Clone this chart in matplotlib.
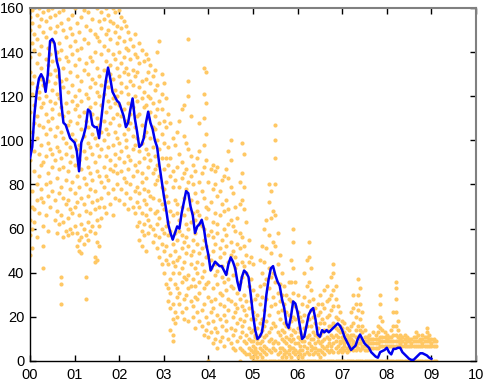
import numpy as np
import matplotlib
matplotlib.use("Agg")
import matplotlib.pyplot as plt

plt.rcParams['font.family'] = ['Liberation Sans', 'DejaVu Sans']

# ---- smoothed line (years since 2000, value) ----
line_t = [0.00, 0.05, 0.10, 0.15, 0.20, 0.25, 0.30, 0.35, 0.40, 0.45,
          0.50, 0.55, 0.60, 0.65, 0.70, 0.75, 0.80, 0.85, 0.90, 0.95,
          1.00, 1.05, 1.10, 1.15, 1.20, 1.25, 1.30, 1.35, 1.40, 1.45,
          1.50, 1.55, 1.60, 1.65, 1.70, 1.75, 1.80, 1.85, 1.90, 1.95,
          2.00, 2.05, 2.10, 2.15, 2.20, 2.25, 2.30, 2.35, 2.40, 2.45,
          2.50, 2.55, 2.60, 2.65, 2.70, 2.75, 2.80, 2.85, 2.90, 2.95,
          3.00, 3.05, 3.10, 3.15, 3.20, 3.25, 3.30, 3.35, 3.40, 3.45,
          3.50, 3.55, 3.60, 3.65, 3.70, 3.75, 3.80, 3.85, 3.90, 3.95,
          4.00, 4.05, 4.10, 4.15, 4.20, 4.25, 4.30, 4.35, 4.40, 4.45,
          4.50, 4.55, 4.60, 4.65, 4.70, 4.75, 4.80, 4.85, 4.90, 4.95,
          5.00, 5.05, 5.10, 5.15, 5.20, 5.25, 5.30, 5.35, 5.40, 5.45,
          5.50, 5.55, 5.60, 5.65, 5.70, 5.75, 5.80, 5.85, 5.90, 5.95,
          6.00, 6.05, 6.10, 6.15, 6.20, 6.25, 6.30, 6.35, 6.40, 6.45,
          6.50, 6.55, 6.60, 6.65, 6.70, 6.75, 6.80, 6.85, 6.90, 6.95,
          7.00, 7.05, 7.10, 7.15, 7.20, 7.25, 7.30, 7.35, 7.40, 7.45,
          7.50, 7.55, 7.60, 7.65, 7.70, 7.75, 7.80, 7.85, 7.90, 7.95,
          8.00, 8.05, 8.10, 8.15, 8.20, 8.25, 8.30, 8.35, 8.40, 8.45,
          8.50, 8.55, 8.60, 8.65, 8.70, 8.75, 8.80, 8.85, 8.90, 8.95,
          9.00]
line_v = [92, 97, 112, 122, 128, 130, 128, 122, 130, 145,
          146, 144, 136, 132, 117, 108, 107, 104, 101, 100,
          99, 95, 86, 99, 102, 106, 114, 113, 107, 106,
          106, 101, 110, 119, 127, 133, 128, 122, 120, 118,
          117, 114, 111, 106, 108, 114, 119, 110, 104, 97,
          98, 101, 108, 113, 108, 105, 100, 97, 89, 82,
          75, 69, 62, 58, 55, 58, 61, 60, 67, 72,
          77, 76, 70, 66, 58, 61, 62, 64, 60, 53,
          48, 41, 43, 45, 44, 43, 43, 41, 39, 44,
          47, 45, 42, 36, 32, 38, 41, 40, 38, 30,
          21, 14, 10, 11, 13, 20, 30, 37, 42, 43,
          39, 36, 34, 28, 24, 17, 15, 20, 27, 26,
          22, 16, 10, 11, 16, 21, 23, 24, 19, 12,
          11, 14, 13, 14, 13, 14, 15, 16, 17, 16,
          14, 11, 9, 7, 5, 6, 7, 10, 12, 10,
          8, 7, 6, 4, 3, 2, 1.5, 4, 4.5, 5,
          6, 4, 3, 5.5, 5.5, 6, 6, 4, 3, 2,
          1, 0.5, 0.5, 1.5, 2.5, 3.5, 3.5, 3, 2.5, 1.5,
          1]

# ---- individual observations: one column of values per date ----
obs_t = [0.00, 0.05, 0.10, 0.15, 0.20, 0.25, 0.30, 0.35, 0.40, 0.45,
         0.50, 0.55, 0.60, 0.65, 0.70, 0.75, 0.80, 0.85, 0.90, 0.95,
         1.00, 1.05, 1.10, 1.15, 1.20, 1.25, 1.30, 1.35, 1.40, 1.45,
         1.50, 1.55, 1.60, 1.65, 1.70, 1.75, 1.80, 1.85, 1.90, 1.95,
         2.00, 2.05, 2.10, 2.15, 2.20, 2.25, 2.30, 2.35, 2.40, 2.45,
         2.50, 2.55, 2.60, 2.65, 2.70, 2.75, 2.80, 2.85, 2.90, 2.95,
         3.00, 3.05, 3.10, 3.15, 3.20, 3.25, 3.30, 3.35, 3.40, 3.45,
         3.50, 3.55, 3.60, 3.65, 3.70, 3.75, 3.80, 3.85, 3.90, 3.95,
         4.00, 4.05, 4.10, 4.15, 4.20, 4.25, 4.30, 4.35, 4.40, 4.45,
         4.50, 4.55, 4.60, 4.65, 4.70, 4.75, 4.80, 4.85, 4.90, 4.95,
         5.00, 5.05, 5.10, 5.15, 5.20, 5.25, 5.30, 5.35, 5.40, 5.45,
         5.50, 5.55, 5.60, 5.65, 5.70, 5.75, 5.80, 5.85, 5.90, 5.95,
         6.00, 6.05, 6.10, 6.15, 6.20, 6.25, 6.30, 6.35, 6.40, 6.45,
         6.50, 6.55, 6.60, 6.65, 6.70, 6.75, 6.80, 6.85, 6.90, 6.95,
         7.00, 7.05, 7.10, 7.15, 7.20, 7.25, 7.30, 7.35, 7.40, 7.45,
         7.50, 7.55, 7.60, 7.65, 7.70, 7.75, 7.80, 7.85, 7.90, 7.95,
         8.00, 8.05, 8.10, 8.15, 8.20, 8.25, 8.30, 8.35, 8.40, 8.45,
         8.50, 8.55, 8.60, 8.65, 8.70, 8.75, 8.80, 8.85, 8.90, 8.95,
         9.00, 9.05, 9.10]
obs_v = [
    [48, 57, 64, 91, 99, 113, 131, 138, 150, 156],
    [51, 60, 70, 77, 104, 121, 126, 144, 153, 159],
    [63, 69, 86, 95, 108, 116, 129, 141, 148],
    [56, 73, 80, 101, 111, 124, 135, 146, 157],
    [67, 84, 94, 107, 119, 122, 139, 152, 160],
    [74, 78, 89, 98, 115, 128, 133, 143, 155],
    [42, 52, 61, 72, 90, 106, 117, 125, 149, 158],
    [66, 80, 93, 103, 112, 120, 137, 147, 154],
    [59, 75, 85, 99, 109, 127, 134, 142, 159],
    [70, 81, 96, 105, 118, 130, 139, 151, 156],
    [77, 88, 94, 110, 114, 123, 136, 145, 160],
    [64, 73, 91, 102, 117, 126, 132, 149, 157],
    [58, 68, 83, 97, 106, 121, 129, 140, 152],
    [62, 76, 87, 95, 112, 119, 137, 144, 158],
    [26, 35, 38, 66, 79, 92, 104, 115, 127, 141, 153],
    [56, 63, 74, 88, 101, 111, 124, 133, 150, 159],
    [59, 71, 82, 94, 99, 117, 128, 138, 147],
    [57, 65, 73, 86, 107, 113, 122, 136, 155],
    [60, 69, 78, 90, 97, 109, 131, 143, 151],
    [58, 67, 81, 93, 103, 118, 125, 139, 148, 157],
    [61, 70, 76, 89, 100, 114, 120, 134, 145, 160],
    [52, 58, 72, 84, 96, 108, 116, 129, 141, 153],
    [50, 55, 66, 79, 91, 98, 111, 123, 137, 149],
    [49, 56, 62, 74, 87, 105, 118, 127, 142, 156],
    [53, 60, 71, 83, 95, 102, 113, 132, 146, 159],
    [28, 38, 57, 68, 80, 92, 109, 121, 135, 152],
    [55, 63, 75, 88, 99, 106, 119, 130, 144, 158],
    [59, 67, 78, 85, 97, 115, 124, 138, 150],
    [61, 72, 82, 94, 103, 112, 128, 136, 155],
    [45, 47, 58, 69, 77, 90, 101, 117, 126, 140, 148],
    [46, 54, 64, 73, 86, 98, 110, 122, 133, 147, 160],
    [52, 61, 70, 84, 93, 107, 120, 129, 145, 154],
    [65, 74, 81, 96, 104, 116, 125, 139, 151, 158],
    [70, 79, 88, 100, 109, 121, 132, 143, 155],
    [67, 84, 93, 105, 113, 127, 136, 148, 160],
    [76, 82, 97, 103, 118, 124, 141, 150, 157],
    [71, 87, 91, 108, 115, 130, 134, 146, 154],
    [66, 78, 86, 98, 110, 119, 128, 139, 153, 160],
    [74, 89, 94, 104, 117, 123, 137, 149, 158],
    [80, 85, 101, 112, 120, 133, 144, 152],
    [73, 92, 99, 107, 116, 129, 140, 147, 159],
    [78, 86, 95, 111, 122, 126, 135, 151, 156],
    [71, 83, 90, 103, 114, 131, 138, 145, 154],
    [76, 81, 97, 100, 109, 124, 133, 142, 152],
    [69, 87, 93, 105, 117, 121, 130, 141, 149],
    [74, 80, 91, 108, 112, 127, 137, 146],
    [70, 84, 96, 102, 115, 125, 132, 143],
    [67, 77, 89, 98, 106, 120, 129, 139, 148],
    [61, 72, 79, 86, 101, 111, 118, 131, 138],
    [55, 63, 70, 76, 90, 95, 112, 124, 135, 144],
    [52, 59, 67, 81, 85, 99, 107, 119, 127, 141],
    [57, 62, 73, 78, 92, 102, 115, 122, 136],
    [50, 66, 71, 83, 96, 104, 116, 128, 139],
    [58, 64, 77, 88, 94, 110, 120, 131, 137],
    [61, 69, 75, 91, 101, 113, 119, 126, 134],
    [54, 60, 74, 85, 97, 106, 117, 129],
    [57, 67, 80, 87, 93, 105, 111, 123, 132],
    [51, 62, 68, 82, 89, 100, 114, 125, 140],
    [47, 56, 65, 73, 84, 96, 108, 118, 145],
    [44, 53, 60, 71, 79, 92, 103, 114, 121, 130],
    [40, 50, 58, 69, 78, 87, 99, 109, 126],
    [35, 46, 52, 61, 75, 81, 92, 106, 119],
    [27, 33, 44, 57, 63, 72, 89, 97, 112],
    [14, 24, 31, 37, 48, 59, 68, 84, 92, 108],
    [9, 12, 19, 26, 40, 45, 53, 66, 79, 86, 101],
    [17, 22, 35, 43, 50, 58, 73, 82, 98],
    [20, 29, 33, 46, 55, 67, 71, 88, 104],
    [26, 31, 40, 47, 59, 64, 79, 94, 109],
    [22, 36, 42, 51, 57, 70, 83, 90, 114],
    [19, 28, 38, 45, 54, 66, 74, 85, 102, 116],
    [24, 30, 37, 49, 56, 62, 78, 87, 99],
    [18, 33, 39, 52, 60, 69, 81, 96, 120, 127, 146],
    [27, 34, 44, 48, 63, 73, 84, 93, 111],
    [20, 25, 37, 50, 55, 67, 80, 89],
    [15, 29, 34, 42, 58, 64, 76, 86],
    [22, 28, 40, 45, 53, 68, 72, 92],
    [18, 31, 36, 49, 62, 66, 81, 95, 108],
    [16, 23, 38, 44, 51, 61, 77, 85],
    [12, 26, 33, 41, 55, 60, 74, 88, 98, 110, 121, 133],
    [14, 20, 35, 47, 52, 65, 70, 91, 103, 117, 131],
    [0, 11, 17, 29, 36, 48, 57, 69, 81],
    [13, 22, 27, 42, 46, 59, 72, 87],
    [8, 18, 24, 33, 50, 56, 63, 78, 89],
    [10, 15, 28, 39, 44, 53, 67, 80, 86],
    [6, 13, 21, 35, 41, 58, 62, 75, 88],
    [9, 19, 26, 31, 47, 51, 66, 77],
    [11, 16, 30, 38, 43, 55, 71, 82],
    [7, 21, 25, 36, 49, 60, 68, 84],
    [14, 18, 32, 40, 52, 57, 73, 87],
    [10, 23, 28, 37, 45, 62, 69, 83, 95],
    [8, 15, 27, 34, 48, 54, 64, 79, 91, 100],
    [6, 12, 20, 33, 39, 50, 61, 76],
    [5, 14, 22, 26, 42, 47, 59, 70],
    [9, 17, 24, 31, 44, 53, 65],
    [0, 6, 11, 19, 28, 36, 51, 58, 71, 81],
    [5, 13, 16, 25, 38, 45, 56, 73, 85, 99],
    [4, 9, 18, 23, 30, 43, 52, 69, 79, 94],
    [3, 8, 12, 21, 27, 40, 48, 63],
    [3, 6, 10, 15, 24, 34, 45, 55],
    [2, 5, 9, 13, 19, 27, 37, 47],
    [0, 2, 4, 7, 9, 14, 22, 32, 44],
    [0, 3, 5, 6, 11, 12, 19, 28],
    [0, 2, 4, 8, 10, 15, 21, 30],
    [0, 3, 6, 8, 12, 17, 26, 34, 46],
    [0, 2, 5, 9, 14, 19, 29, 40, 52],
    [0, 4, 7, 11, 16, 23, 35, 45, 60],
    [0, 3, 6, 12, 18, 28, 37, 51, 64],
    [0, 5, 9, 13, 21, 33, 42, 57, 72, 80],
    [0, 4, 10, 15, 25, 38, 49, 65, 77],
    [0, 6, 8, 17, 29, 40, 54, 68],
    [0, 5, 9, 16, 26, 36, 52, 66, 80, 92, 100, 107],
    [0, 3, 8, 13, 22, 31, 44, 58],
    [0, 4, 6, 12, 19, 27, 35, 48],
    [0, 2, 6, 10, 14, 23, 30, 40],
    [0, 3, 5, 9, 13, 17, 26, 34],
    [0, 2, 4, 8, 11, 16, 22, 30],
    [0, 3, 5, 7, 10, 15, 21, 28, 36],
    [0, 2, 6, 9, 12, 18, 27, 36, 46],
    [0, 4, 6, 10, 14, 20, 31, 42, 54, 60],
    [0, 3, 5, 8, 13, 19, 25, 36],
    [0, 2, 4, 8, 11, 15, 22, 30],
    [0, 3, 5, 7, 10, 13, 20],
    [0, 2, 5, 9, 12, 18, 26],
    [0, 3, 7, 9, 15, 21, 29, 40],
    [0, 4, 6, 11, 16, 25, 34, 46],
    [0, 3, 8, 12, 19, 27, 36, 47, 54],
    [0, 5, 7, 10, 16, 23, 32, 42],
    [0, 3, 6, 10, 13, 20, 28],
    [0, 4, 6, 8, 12, 17, 24],
    [0, 3, 5, 9, 11, 15, 21, 26],
    [0, 2, 5, 8, 12, 17, 22, 30],
    [0, 4, 7, 9, 13, 19, 26],
    [0, 3, 6, 10, 14, 17, 24, 32],
    [0, 5, 7, 11, 14, 20, 27, 34],
    [0, 4, 8, 10, 16, 21, 28],
    [0, 5, 7, 12, 16, 23, 30, 38],
    [0, 4, 8, 11, 17, 25, 32, 40, 44],
    [0, 6, 9, 12, 15, 20, 28, 34],
    [0, 4, 7, 11, 14, 19, 25],
    [0, 5, 8, 9, 13, 16, 22],
    [0, 4, 6, 9, 11, 15, 18],
    [0, 5, 7, 8, 10, 13, 17],
    [0, 4, 6, 9, 10, 12, 15],
    [0, 5, 8, 9, 11, 14],
    [0, 6, 7, 10, 12, 16, 22],
    [0, 5, 8, 9, 12, 17, 24, 30],
    [0, 5, 7, 11, 14, 20, 26],
    [0, 6, 8, 11, 16, 23, 30, 37],
    [0, 5, 8, 10, 14, 19, 26, 33],
    [0, 6, 7, 9, 13, 16, 22],
    [0, 5, 7, 9, 11, 14],
    [0, 5, 7, 9, 11],
    [0, 6, 8, 10, 12],
    [0, 6, 8, 10],
    [0, 6, 8, 10, 13],
    [0, 6, 8, 10, 12],
    [0, 6, 8, 10, 13, 16],
    [0, 7, 9, 11, 15, 20, 26, 30],
    [0, 7, 9, 11, 14, 18],
    [0, 7, 9, 11, 13],
    [0, 7, 9, 10, 12],
    [0, 7, 9, 11],
    [0, 7, 9, 11, 14],
    [0, 7, 9, 12, 16, 22],
    [0, 7, 9, 12, 16, 22, 28, 33, 36],
    [0, 7, 9, 11, 14, 18],
    [0, 7, 8, 10, 12],
    [0, 7, 9, 11],
    [0, 7, 8, 10, 12],
    [0, 7, 9, 11],
    [0, 7, 9, 10],
    [0, 7, 8, 10],
    [0, 7, 9, 11],
    [0, 7, 9, 11, 13],
    [0, 7, 9, 12],
    [0, 7, 9, 10],
    [0, 7, 8, 10, 12],
    [0, 7, 9, 11],
    [0, 7, 9, 11, 13, 15],
    [0, 7, 9, 10, 12],
    [0, 7, 8, 10],
    [0, 7, 9, 10],
    [0, 7, 9],
]

x_ticks = [0, 1, 2, 3, 4, 5, 6, 7, 8, 9, 10]
x_tick_labels = ['00', '01', '02', '03', '04', '05', '06', '07', '08', '09', '10']
y_ticks = [0, 20, 40, 60, 80, 100, 120, 140, 160]

# ---- figure ----
fig = plt.figure(figsize=(4.83, 3.89), dpi=100)
ax = fig.add_axes([30 / 483, 1 - 361 / 389, 446 / 483, 353 / 389])

sx = []
sy = []
for t, vals in zip(obs_t, obs_v):
    for v in vals:
        sx.append(t)
        sy.append(v)

ax.scatter(sx, sy, s=9, color='#ffc864', linewidths=0, zorder=2)
ax.plot(line_t, line_v, color='#0000ee', lw=1.8, zorder=3)

ax.set_xlim(0, 10)
ax.set_ylim(0, 160)
ax.set_xticks(x_ticks)
ax.set_xticklabels(x_tick_labels)
ax.set_yticks(y_ticks)

ax.tick_params(direction='in', length=4, width=1, labelsize=10.5,
               top=True, right=True, colors='black')
for side in ['top', 'right']:
    ax.spines[side].set_color('#808080')
    ax.spines[side].set_linewidth(1.5)
for side in ['left', 'bottom']:
    ax.spines[side].set_color('black')
    ax.spines[side].set_linewidth(1.0)
ax.tick_params(axis='x', pad=5)
ax.tick_params(axis='y', pad=4)

fig.savefig('out.png', dpi=100)
